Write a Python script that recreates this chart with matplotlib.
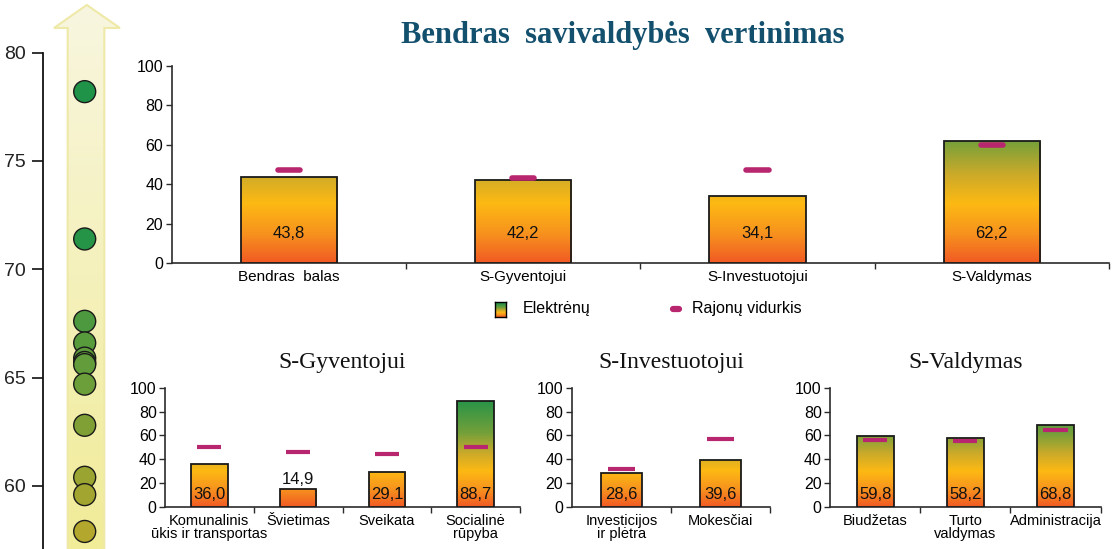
import numpy as np
import matplotlib
matplotlib.use('Agg')
import matplotlib.pyplot as plt
from matplotlib.colors import LinearSegmentedColormap
from matplotlib.patches import Polygon
from matplotlib.lines import Line2D

# savivaldybių bendri balai (kairė skalė)
scores = [78.2, 71.4, 67.6, 66.6, 65.9, 65.7, 65.6, 64.7, 62.8, 60.4, 59.6, 57.9]

main_cats = ['Bendras  balas', 'S-Gyventojui', 'S-Investuotojui', 'S-Valdymas']
main_vals = [43.8, 42.2, 34.1, 62.2]
main_avg = [47.3, 43.2, 47.3, 60.0]

gyv_cats = ['Komunalinis\nūkis ir transportas', 'Švietimas', 'Sveikata', 'Socialinė\nrūpyba']
gyv_vals = [36.0, 14.9, 29.1, 88.7]
gyv_avg = [50.0, 46.3, 44.1, 50.0]

inv_cats = ['Investicijos\nir plėtra', 'Mokesčiai']
inv_vals = [28.6, 39.6]
inv_avg = [31.5, 57.0]

val_cats = ['Biudžetas', 'Turto\nvaldymas', 'Administracija']
val_vals = [59.8, 58.2, 68.8]
val_avg = [56.2, 55.3, 64.6]

SANS = ['Liberation Sans', 'DejaVu Sans']
SERIF = ['Liberation Serif', 'DejaVu Serif']
AVG_COLOR = '#b8266f'
AXIS_COLOR = '#2b2b2b'

bar_cmap = LinearSegmentedColormap.from_list('bar', [
    (0.00, '#f15a24'), (0.15, '#f7931e'), (0.30, '#fdb913'),
    (0.45, '#cbaa2a'), (0.62, '#74a03a'), (0.88, '#2b9447'), (1.00, '#1f8f47')])
dot_cmap = LinearSegmentedColormap.from_list('dot', ['#b8a82c', '#1f9347'])
arrow_cmap = LinearSegmentedColormap.from_list('arrow', ['#f1ec98', '#f8f6e0'])

W, H = 1113, 549
fig = plt.figure(figsize=(W / 100, H / 100), dpi=100)


def px_axes(x0, x1, y_top, y_bot):
    return fig.add_axes([x0 / W, 1 - y_bot / H, (x1 - x0) / W, (y_bot - y_top) / H])


def draw_bars(ax, cats, vals, avg, avg_len, avg_lw, avg_cap, label_y, fs, lab_fs, tick_fs):
    x = np.arange(len(cats))
    bars = ax.bar(x, vals, width=0.41, facecolor='none', edgecolor='#1a1a1a',
                  linewidth=1.3, zorder=4)
    grad = np.linspace(0, 100, 256).reshape(-1, 1)
    for b in bars:
        im = ax.imshow(grad, cmap=bar_cmap, vmin=0, vmax=100, origin='lower',
                       extent=(b.get_x(), b.get_x() + b.get_width(), 0, 100),
                       aspect='auto', zorder=3, interpolation='bilinear')
        im.set_clip_path(b)
    for xi, a in zip(x, avg):
        ax.plot([xi - avg_len / 2, xi + avg_len / 2], [a, a], color=AVG_COLOR,
                lw=avg_lw, solid_capstyle=avg_cap, zorder=5)
    for xi, v in zip(x, vals):
        txt = f'{v:.1f}'.replace('.', ',')
        if v > 18:
            ax.text(xi, label_y, txt, ha='center', va='center', fontsize=fs,
                    family=SANS, color='#111', zorder=6)
        else:
            ax.text(xi, v + 1.5, txt, ha='center', va='bottom', fontsize=fs,
                    family=SANS, color='#111', zorder=6)
    ax.set_xlim(-0.5, len(cats) - 0.5)
    ax.set_ylim(0, 100)
    ax.set_yticks(range(0, 101, 20))
    ax.set_xticks(x)
    ax.set_xticklabels(cats, family=SANS, fontsize=lab_fs, linespacing=0.95)
    ax.set_xticks(np.arange(len(cats)) + 0.5, minor=True)
    ax.tick_params(axis='x', which='major', length=0, pad=5)
    ax.tick_params(axis='x', which='minor', length=4, width=1, color=AXIS_COLOR)
    ax.tick_params(axis='y', length=4, width=1, color=AXIS_COLOR, pad=2)
    for lab in ax.get_yticklabels():
        lab.set_family(SANS)
        lab.set_fontsize(tick_fs)
    for s in ['top', 'right']:
        ax.spines[s].set_visible(False)
    for s in ['left', 'bottom']:
        ax.spines[s].set_color(AXIS_COLOR)
        ax.spines[s].set_linewidth(1.2)


# kairė skalė su rodykle
axl = px_axes(42.7, 130, 0, H)
arrow = Polygon([(0.286, -0.01), (0.286, 0.949), (0.129, 0.949), (0.505, 0.991),
                 (0.885, 0.949), (0.706, 0.949), (0.706, -0.01)],
                closed=True, transform=axl.transAxes, facecolor='none',
                edgecolor='#efe9a8', linewidth=1.5, zorder=1)
axl.add_patch(arrow)
agrad = np.linspace(0, 1, 256).reshape(-1, 1)
aim = axl.imshow(agrad, cmap=arrow_cmap, origin='lower', extent=(0, 1, 0, 1),
                 transform=axl.transAxes, aspect='auto', zorder=0)
aim.set_clip_path(arrow)
axl.set_xlim(0, 87.3)
axl.set_ylim(57.09, 82.43)
order = np.argsort(scores)[::-1]
sc = [scores[i] for i in order]
axl.scatter([42] * len(sc), sc, s=250, c=sc, cmap=dot_cmap, vmin=57.5, vmax=72,
            edgecolors='#1a1a1a', linewidths=1, zorder=3, clip_on=False)
for s in ['top', 'right', 'bottom']:
    axl.spines[s].set_visible(False)
axl.spines['left'].set_bounds(57.09, 80)
axl.spines['left'].set_linewidth(1.3)
axl.spines['left'].set_color('#111')
axl.set_xticks([])
axl.set_yticks([60, 65, 70, 75, 80])
axl.tick_params(axis='y', length=8, width=1.2, color='#111', pad=4,
                labelsize=14, labelcolor='#222')
for lab in axl.get_yticklabels():
    lab.set_family(SANS)

# bendras vertinimas
ax_main = px_axes(171.7, 1109, 66, 263.3)
draw_bars(ax_main, main_cats, main_vals, main_avg, 0.095, 4.0, 'round', 15, 12, 11, 11.5)
fig.text(622.5 / W, 1 - 43 / H, 'Bendras  savivaldybės  vertinimas', family=SERIF,
         fontweight='bold', fontsize=22, color='#13506e', ha='center', va='baseline')

# legenda
axg = px_axes(495, 506, 302, 316.7)
axg.imshow(np.linspace(0, 100, 64).reshape(-1, 1), cmap=bar_cmap, vmin=0, vmax=100,
           origin='lower', aspect='auto')
axg.set_xticks([])
axg.set_yticks([])
for s in axg.spines.values():
    s.set_linewidth(1)
fig.text(522.7 / W, 1 - 309 / H, 'Elektrėnų', family=SANS, fontsize=11.5,
         ha='left', va='center')
fig.add_artist(Line2D([673 / W, 679 / W], [1 - 309 / H] * 2, color=AVG_COLOR,
                      lw=4.5, solid_capstyle='round', transform=fig.transFigure))
fig.text(691.7 / W, 1 - 309 / H, 'Rajonų vidurkis', family=SANS, fontsize=11.5,
         ha='left', va='center')

# sričių grafikai
subs = [
    ('S-Gyventojui', (165, 520), gyv_cats, gyv_vals, gyv_avg),
    ('S-Investuotojui', (571.7, 770), inv_cats, inv_vals, inv_avg),
    ('S-Valdymas', (830, 1100.5), val_cats, val_vals, val_avg),
]
for title, (x0, x1), cats, vals, avg in subs:
    ax = px_axes(x0, x1, 388, 506.7)
    draw_bars(ax, cats, vals, avg, 0.27, 3.0, 'butt', 10, 12, 10.5, 11.5)
    ax.text(0.5, 1.166, title, transform=ax.transAxes, family=SERIF, fontsize=17,
            ha='center', va='baseline', color='#111')

fig.savefig('out.png', dpi=100)
